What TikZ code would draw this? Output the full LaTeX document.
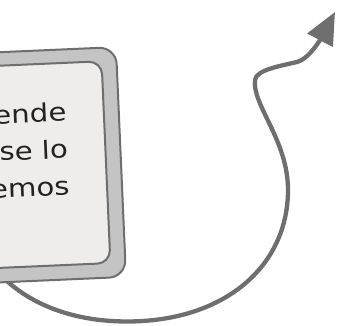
\documentclass[tikz,border=0pt]{standalone}
\usepackage{fontspec}
\newfontfamily\captionfont{DejaVu Sans}
\usetikzlibrary{arrows.meta}

\definecolor{edgegray}{HTML}{6E6E6E}
\definecolor{framegray}{HTML}{C4C4C4}
\definecolor{panelgray}{HTML}{EEEDEB}
\definecolor{inkgray}{HTML}{222222}

\begin{document}
\begin{tikzpicture}[x=1pt,y=1pt,
	frame/.style={draw=edgegray, fill=framegray, line width=2pt, rounded corners=17pt,
		minimum width=270pt, minimum height=230pt, inner sep=0pt, rotate=2.5},
	panel/.style={draw=edgegray, fill=panelgray, line width=2pt, rounded corners=13pt,
		minimum width=240pt, minimum height=202pt, inner sep=0pt, rotate=2.5},
	caption/.style={text=inkgray, inner sep=0pt, anchor=base east, rotate=2.5, xscale=1.17,
		font=\captionfont\fontsize{25}{36}\selectfont},
	curvy/.style={draw=edgegray, line width=4.3pt, -{Triangle[length=32pt,width=28pt]}}]
	
	\useasboundingbox (0,0) rectangle (341,326);
	\clip (0,0) rectangle (341,326);
	
	% ends of the curved arrow
	\coordinate (tail) at (-15,71);
	\coordinate (head) at (335,314);
	
	% the arrow runs below the frame
	\draw[curvy] (tail)
	.. controls (10,31) and (60,4.5) .. (127,4.5)
	.. controls (225,4.5) and (288,60) .. (288,136)
	.. controls (288,186) and (252,221) .. (255,246)
	.. controls (256,256) and (280,260) .. (297,264)
	.. controls (312,268) and (326,297) .. (head);
	
	% Tilted frame, cut by the left border
	\node[frame] (frame) at (-13.9,158.1) {};
	\node[panel] (panel) at (-13.9,158.6) {};
	
	\node[caption] (ende) at (67.0,205.0) {ende};
	\node[caption] (selo) at (68.5,168.0) {se lo};
	\node[caption] (emos) at (70.2,131.0) {emos};
	
\end{tikzpicture}
\end{document}
